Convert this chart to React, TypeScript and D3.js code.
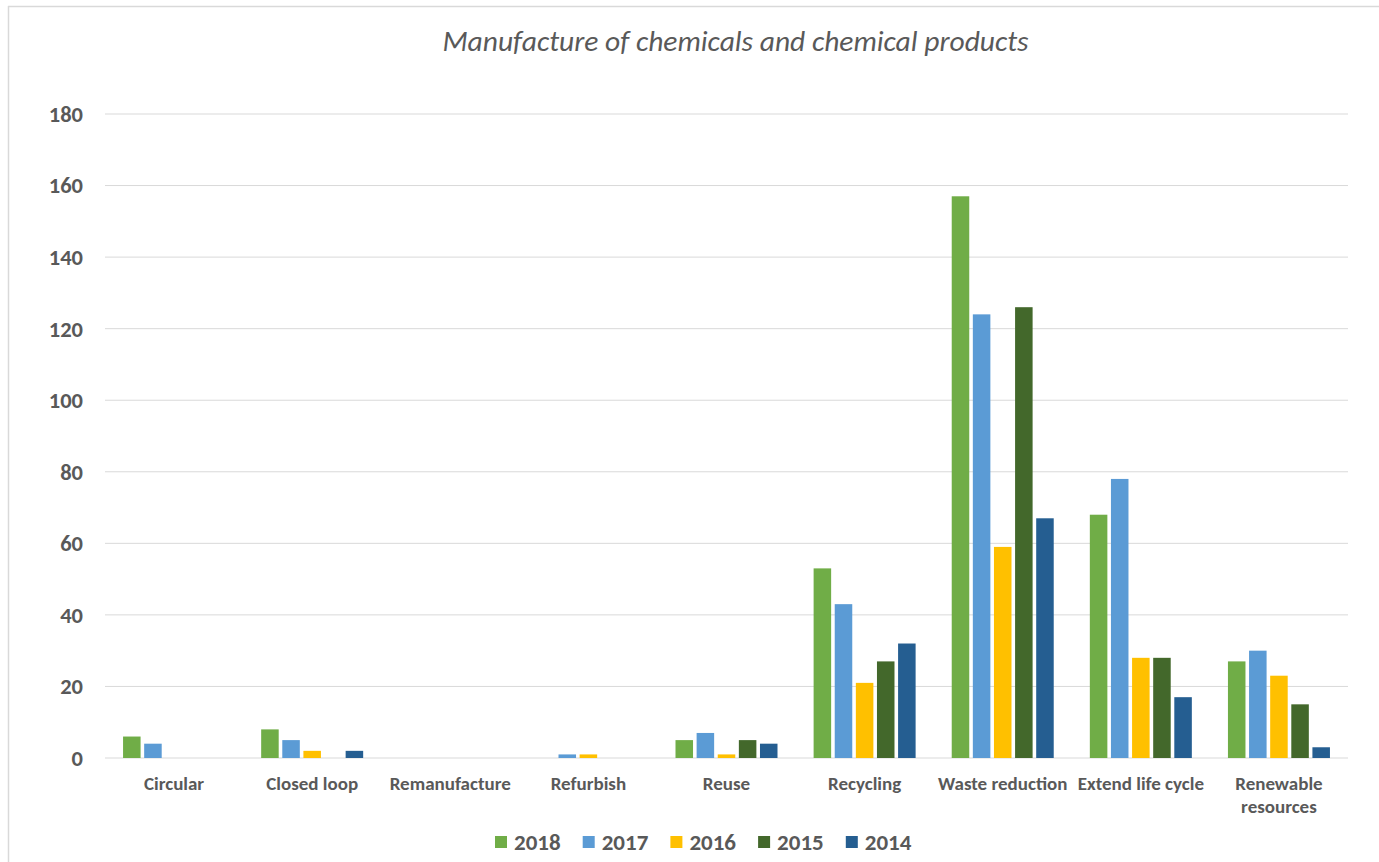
import React from "react";
import * as d3 from "d3";

const categories = [
  "Circular",
  "Closed loop",
  "Remanufacture",
  "Refurbish",
  "Reuse",
  "Recycling",
  "Waste reduction",
  "Extend life cycle",
  "Renewable resources",
];
const seriesNames = ["2018", "2017", "2016", "2015", "2014"];
const values2018 = [6, 8, 0, 0, 5, 53, 157, 68, 27];
const values2017 = [4, 5, 0, 1, 7, 43, 124, 78, 30];
const values2016 = [0, 2, 0, 1, 1, 21, 59, 28, 23];
const values2015 = [0, 0, 0, 0, 5, 27, 126, 28, 15];
const values2014 = [0, 2, 0, 0, 4, 32, 67, 17, 3];
const seriesValues = [values2018, values2017, values2016, values2015, values2014];
const colors = ["#70AD47", "#5B9BD5", "#FFC000", "#43682B", "#255E91"];
const yTicks = [0, 20, 40, 60, 80, 100, 120, 140, 160, 180];
const title = "Manufacture of chemicals and chemical products";

const W = 1379;
const H = 862;
const left = 105;
const right = 1348;
const top = 114;
const bottom = 758;
const font = "Carlito, Lato, 'Open Sans', sans-serif";
const textColor = "#595959";

export default function App() {
  const x = d3.scaleBand<string>().domain(categories).range([left, right]).paddingInner(0).paddingOuter(0);
  const groupW = 102;
  const xi = d3
    .scaleBand<string>()
    .domain(seriesNames)
    .range([0, groupW])
    .paddingInner(0.17)
    .paddingOuter(0);
  const y = d3.scaleLinear().domain([0, 180]).range([bottom, top]);

  const legendStart = 495;
  const legendStep = 87.7;

  return (
    <svg
      width={W}
      height={H}
      style={{ position: "fixed", left: 0, top: 0, background: "#fff" }}
      fontFamily={font}
    >
      <rect x={0} y={0} width={W} height={H} fill="#fff" />
      <line x1={8} x2={W} y1={6.5} y2={6.5} stroke="#D9D9D9" strokeWidth={1.5} />
      <line x1={8.5} x2={8.5} y1={6} y2={H} stroke="#D9D9D9" strokeWidth={1.5} />
      <text
        x={735.5}
        y={51}
        textAnchor="middle"
        fontSize={29.5}
        fontStyle="italic"
        fill={textColor}
      >
        {title}
      </text>
      {yTicks.map((t) => (
        <g key={t}>
          <line x1={left} x2={right} y1={y(t)} y2={y(t)} stroke="#D9D9D9" strokeWidth={1} />
          <text
            x={83}
            y={y(t)}
            dy="0.35em"
            textAnchor="end"
            fontSize={22.5}
            fontWeight="bold"
            fill={textColor}
          >
            {t}
          </text>
        </g>
      ))}
      {categories.map((c, ci) => {
        const gx = (x(c) as number) + x.bandwidth() / 2 - groupW / 2;
        return (
          <g key={c}>
            {seriesNames.map((s, si) => {
              const v = seriesValues[si][ci];
              if (!v) return null;
              return (
                <rect
                  key={s}
                  x={gx + (xi(s) as number)}
                  y={y(v)}
                  width={xi.bandwidth()}
                  height={y(0) - y(v)}
                  fill={colors[si]}
                />
              );
            })}
          </g>
        );
      })}
      {categories.map((c) => {
        const cx = (x(c) as number) + x.bandwidth() / 2;
        const parts = c === "Renewable resources" ? ["Renewable", "resources"] : [c];
        return (
          <text
            key={c}
            x={cx}
            y={790}
            textAnchor="middle"
            fontSize={19}
            fontWeight="bold"
            fill={textColor}
          >
            {parts.map((p, i) => (
              <tspan key={p} x={cx} dy={i === 0 ? 0 : 23}>
                {p}
              </tspan>
            ))}
          </text>
        );
      })}
      {seriesNames.map((s, si) => (
        <g key={s} transform={`translate(${legendStart + si * legendStep},0)`}>
          <rect x={0} y={836} width={12} height={12} fill={colors[si]} />
          <text x={19} y={842} dy="0.35em" fontSize={23} fontWeight="bold" fill={textColor}>
            {s}
          </text>
        </g>
      ))}
    </svg>
  );
}
